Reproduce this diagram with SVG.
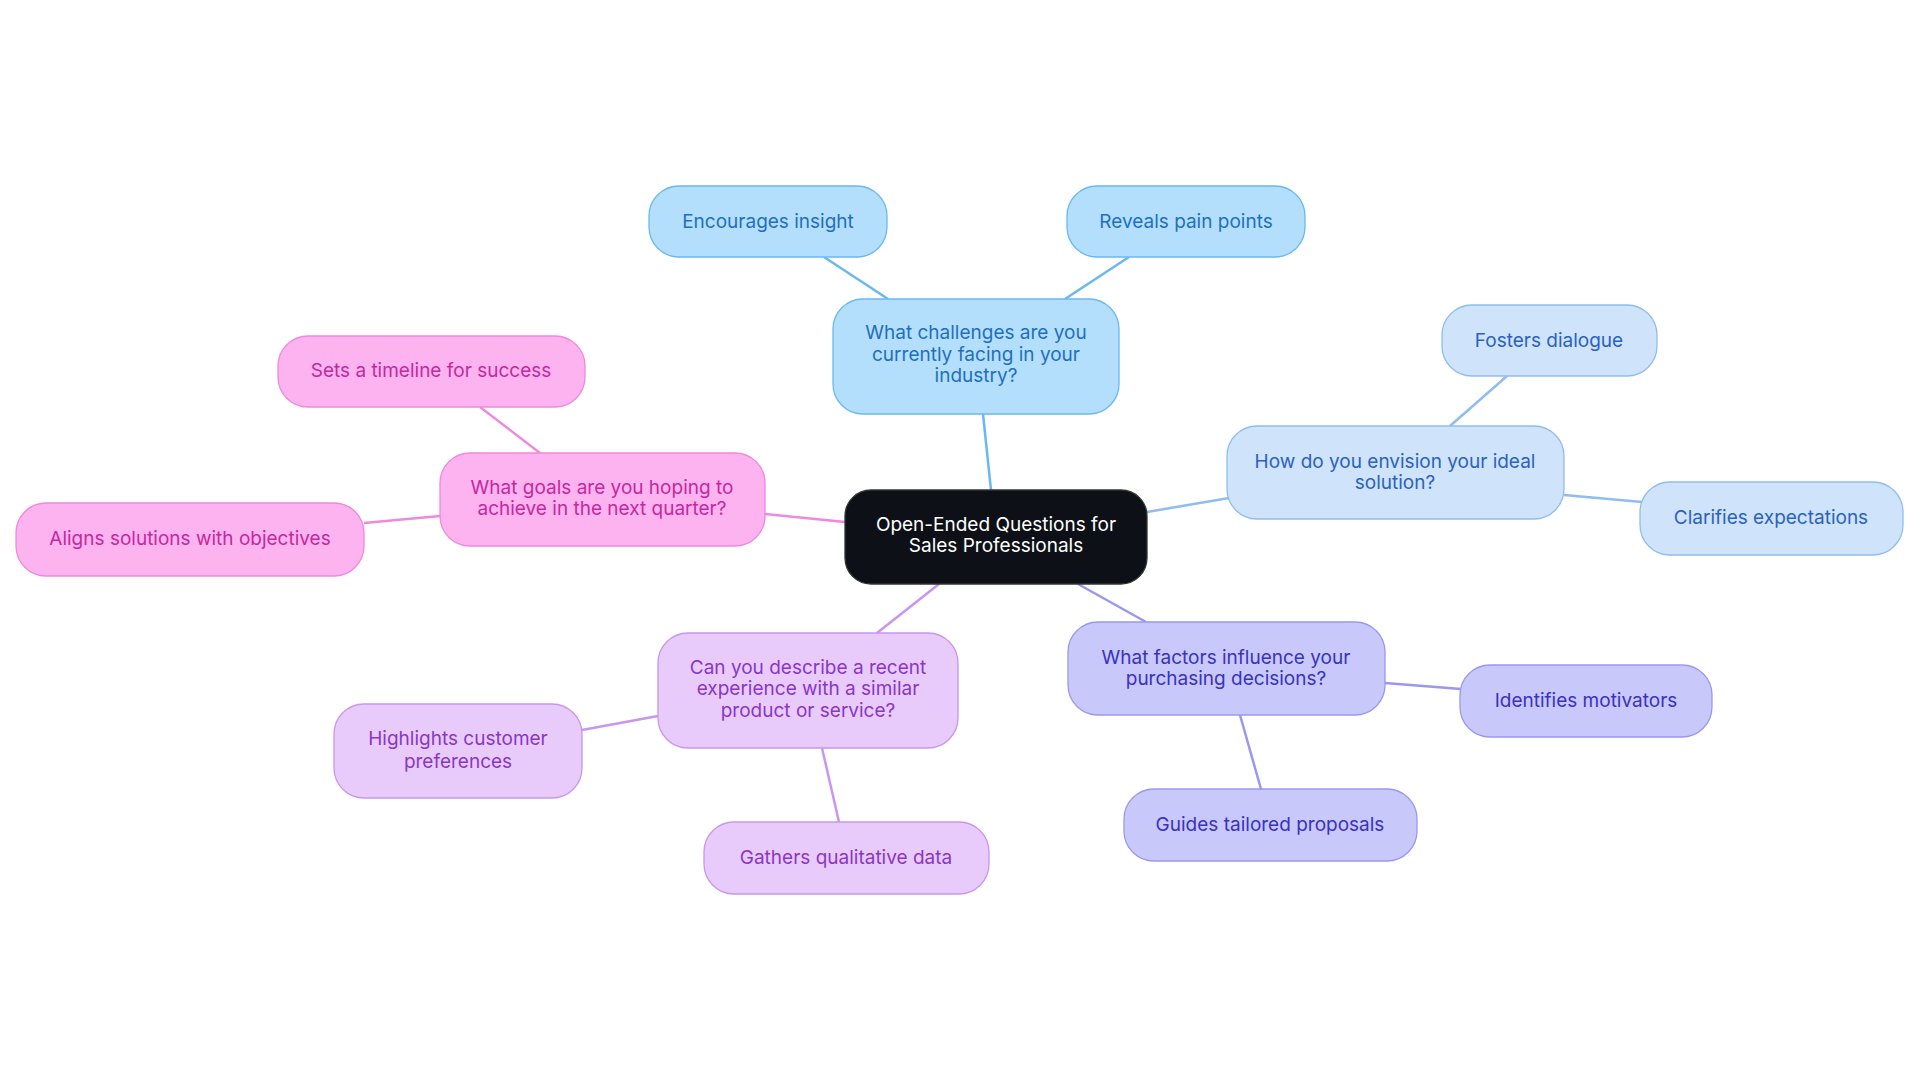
<svg xmlns="http://www.w3.org/2000/svg" width="1920" height="1083" viewBox="0 0 1920 1083">
<style>
text{font-family:Inter,"Liberation Sans",sans-serif;font-size:19px;text-anchor:middle}
rect{stroke-width:1.3}
.b rect{fill:#b3dffc;stroke:#6ab8f0}.b text{fill:#1f6fc0}
.l rect{fill:#cfe3fa;stroke:#90bdf0}.l text{fill:#2a62c0}
.i rect{fill:#c8c8fa;stroke:#9a98ee}.i text{fill:#3a32c0}
.p rect{fill:#e8cbfb;stroke:#c896ee}.p text{fill:#8a36c8}
.k rect{fill:#fdb3ef;stroke:#f088dc}.k text{fill:#c5289e}
#edges line{stroke-width:2.5}
</style>
<rect width="1920" height="1083" fill="#fff"/>
<g id="edges">
<line x1="991" y1="490" x2="983" y2="414" stroke="#6ab8f0"/>
<line x1="888" y1="299" x2="824" y2="257" stroke="#6ab8f0"/>
<line x1="1065" y1="299" x2="1129" y2="257" stroke="#6ab8f0"/>
<line x1="1147" y1="512" x2="1229" y2="498" stroke="#90bdf0"/>
<line x1="1450" y1="426" x2="1507" y2="376" stroke="#90bdf0"/>
<line x1="1564" y1="495" x2="1642" y2="502" stroke="#90bdf0"/>
<line x1="1078" y1="584" x2="1146" y2="622" stroke="#9a98ee"/>
<line x1="1385" y1="683" x2="1461" y2="689" stroke="#9a98ee"/>
<line x1="1240" y1="715" x2="1261" y2="789" stroke="#9a98ee"/>
<line x1="939" y1="584" x2="877" y2="633" stroke="#c896ee"/>
<line x1="658" y1="716" x2="582" y2="730" stroke="#c896ee"/>
<line x1="822" y1="748" x2="839" y2="822" stroke="#c896ee"/>
<line x1="845" y1="522" x2="765" y2="514" stroke="#f088dc"/>
<line x1="540" y1="453" x2="480" y2="407" stroke="#f088dc"/>
<line x1="440" y1="516" x2="364" y2="523" stroke="#f088dc"/>
</g>
<g id="center"><rect x="845" y="490" width="302" height="94" rx="26" fill="#0d1117" stroke="#333"/><text fill="#fff" x="996" y="531">Open-Ended Questions for</text><text fill="#fff" x="996" y="552">Sales Professionals</text></g>
<g id="q1" class="b"><rect x="833" y="299" width="286" height="115" rx="30"/><text x="976" y="339">What challenges are you</text><text x="976" y="361">currently facing in your</text><text x="976" y="382">industry?</text></g>
<g id="q1a" class="b"><rect x="649" y="186" width="238" height="71" rx="30"/><text x="768" y="228">Encourages insight</text></g>
<g id="q1b" class="b"><rect x="1067" y="186" width="238" height="71" rx="30"/><text x="1186" y="228">Reveals pain points</text></g>
<g id="q2" class="l"><rect x="1227" y="426" width="337" height="93" rx="30"/><text x="1395" y="468">How do you envision your ideal</text><text x="1395" y="489">solution?</text></g>
<g id="q2a" class="l"><rect x="1442" y="305" width="215" height="71" rx="30"/><text x="1549" y="347">Fosters dialogue</text></g>
<g id="q2b" class="l"><rect x="1640" y="482" width="263" height="73" rx="30"/><text x="1771" y="524">Clarifies expectations</text></g>
<g id="q3" class="i"><rect x="1068" y="622" width="317" height="93" rx="30"/><text x="1226" y="664">What factors influence your</text><text x="1226" y="685">purchasing decisions?</text></g>
<g id="q3a" class="i"><rect x="1460" y="665" width="252" height="72" rx="30"/><text x="1586" y="707">Identifies motivators</text></g>
<g id="q3b" class="i"><rect x="1124" y="789" width="293" height="72" rx="30"/><text x="1270" y="831">Guides tailored proposals</text></g>
<g id="q4" class="p"><rect x="658" y="633" width="300" height="115" rx="30"/><text x="808" y="674">Can you describe a recent</text><text x="808" y="695">experience with a similar</text><text x="808" y="717">product or service?</text></g>
<g id="q4a" class="p"><rect x="334" y="704" width="248" height="94" rx="30"/><text x="458" y="745">Highlights customer</text><text x="458" y="768">preferences</text></g>
<g id="q4b" class="p"><rect x="704" y="822" width="285" height="72" rx="30"/><text x="846" y="864">Gathers qualitative data</text></g>
<g id="q5" class="k"><rect x="440" y="453" width="325" height="93" rx="30"/><text x="602" y="494">What goals are you hoping to</text><text x="602" y="515">achieve in the next quarter?</text></g>
<g id="q5a" class="k"><rect x="278" y="336" width="307" height="71" rx="30"/><text x="431" y="377">Sets a timeline for success</text></g>
<g id="q5b" class="k"><rect x="16" y="503" width="348" height="73" rx="30"/><text x="190" y="545">Aligns solutions with objectives</text></g>
</svg>
